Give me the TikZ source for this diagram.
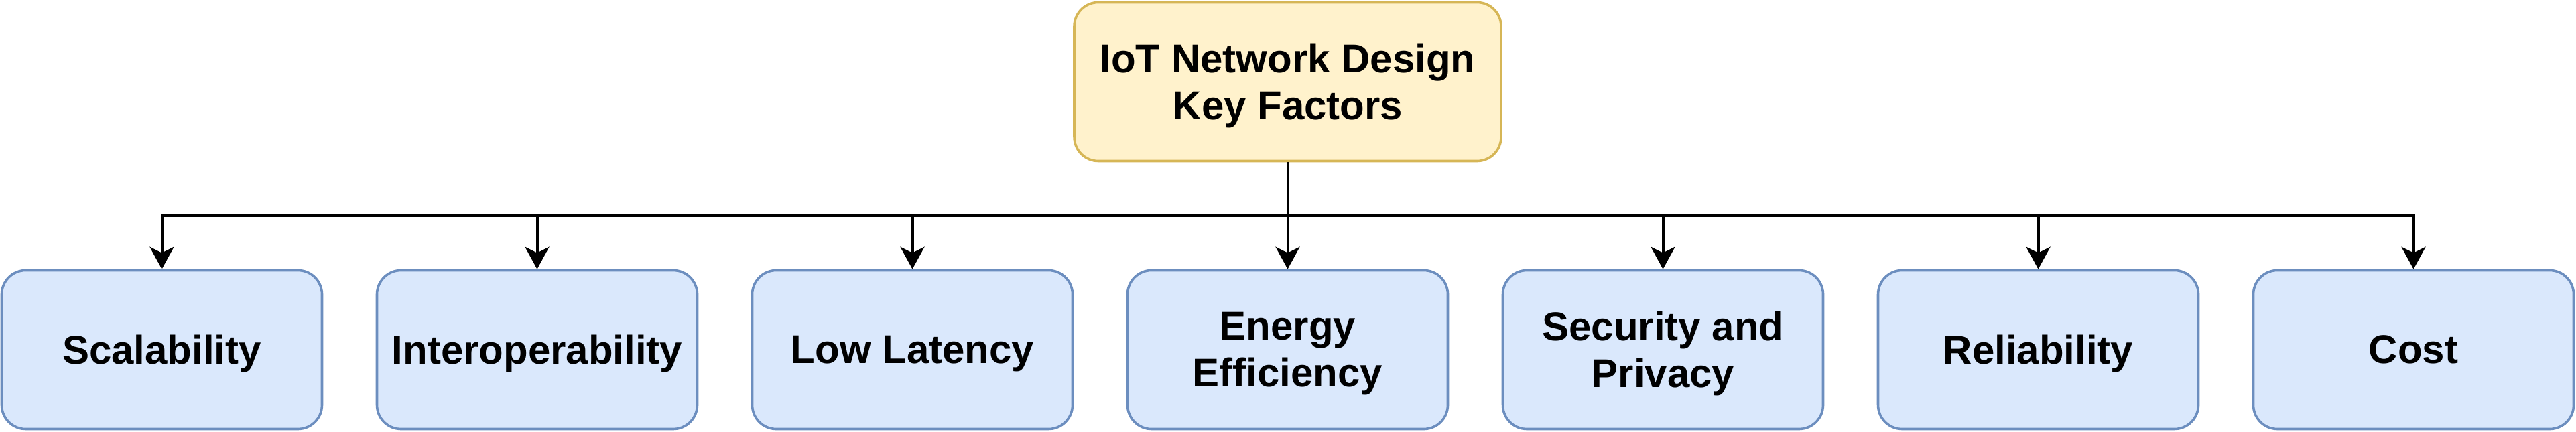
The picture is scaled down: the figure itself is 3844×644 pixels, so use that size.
\documentclass[tikz,border=0pt]{standalone}
\usepackage{fontspec}
\setmainfont{Liberation Sans}
\usetikzlibrary{arrows.meta}
\definecolor{rootfill}{HTML}{FFF2CC}
\definecolor{rootline}{HTML}{D6B656}
\definecolor{leaffill}{HTML}{DAE8FC}
\definecolor{leafline}{HTML}{6C8EBF}
\begin{document}
\begin{tikzpicture}[x=0.25pt,y=-0.25pt,
  boxbase/.style={rounded corners=9pt, line width=0.9pt, align=center,
    inner sep=0pt, text depth=0pt,
    font=\bfseries\fontsize{15}{17.5}\selectfont},
  rootbox/.style={boxbase, draw=rootline, fill=rootfill,
    minimum width=159.25pt, minimum height=59.25pt},
  leafbox/.style={boxbase, draw=leafline, fill=leaffill,
    minimum width=119.5pt, minimum height=59.25pt},
  conn/.style={line width=1pt, draw=black},
  arr/.style={conn, -{Stealth[length=8.25pt, width=9pt, inset=2.2pt]}}]
\useasboundingbox (0,0) rectangle (3844,644);
\node[rootbox] (root) at (1921.5,122) {IoT Network Design\\Key Factors};
\node[leafbox] (c1) at (241.5,522) {Scalability};
\node[leafbox] (c2) at (801.5,522) {Interoperability};
\node[leafbox] (c3) at (1361.5,522) {Low Latency};
\node[leafbox] (c4) at (1921.5,522) {Energy\\Efficiency};
\node[leafbox] (c5) at (2481.5,522) {Security and\\Privacy};
\node[leafbox] (c6) at (3041.5,522) {Reliability};
\node[leafbox] (c7) at (3601.5,522) {Cost};
\coordinate (j) at (1921.5,321.5);
\foreach \c in {c1,c2,c3,c4,c5,c6,c7}{
  \draw[arr] (root.south) -- (j) -| (\c.north);
}
\end{tikzpicture}
\end{document}
